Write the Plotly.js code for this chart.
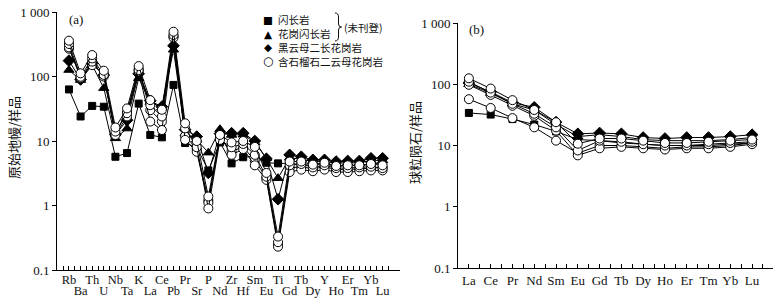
<!DOCTYPE html>
<html>
<head>
<meta charset="utf-8">
<script src="https://cdn.plot.ly/plotly-3.0.1.min.js"></script>
<style>html,body{margin:0;padding:0;background:#fff;}#chart{width:778px;height:301px;}</style>
</head>
<body>
<div id="chart"></div>
<script>
// ---- Panel (a): primitive-mantle normalised trace elements ----
const spiderElements = ['Rb','Ba','Th','U','Nb','Ta','K','La','Ce','Pb','Pr','Sr','P','Nd','Zr','Hf','Sm','Eu','Ti','Gd','Tb','Dy','Y','Ho','Er','Tm','Yb','Lu'];
const spiderDiorite      = [63,24,35,34,5.7,6.5,38,12.4,11.4,74,9.3,8.0,3.5,9.5,4.5,5.6,5.8,4.6,4.5,4.5,4.3,4.2,4.5,4.0,4.2,4.1,4.4,4.6];
const spiderGranodiorite = [126,88,150,66,11,15.6,94,40,33,260,13,10.5,6.6,15.2,12.4,12.5,9.5,5.4,2.65,5.5,5.2,4.8,4.8,4.5,4.6,4.6,5.0,5.0];
const spiderMonzogranite = [176,90,160,105,12.5,21,110,42,34,300,15,11.7,3.2,13,13.2,13.2,10,5.3,1.25,6.1,5.7,5.1,5.1,4.8,4.9,4.9,5.4,5.4];
const spiderGarnet1 = [359,112,215,123,16.2,32,145,43,30.5,495,18.8,10,1.38,12.4,9.5,10,8.1,3.2,0.33,4.8,4.8,4.3,4.6,4.1,4.2,4.2,4.4,4.2];
const spiderGarnet2 = [319,99,191,106,14,27,126,36,24,440,15.7,8,0.9,10.4,8,9,6.1,2.8,0.27,4.2,4.4,3.9,4.2,3.8,3.8,3.9,4.0,3.8];
const spiderGarnet3 = [283,95,170,100,12.4,24,120,20,14.8,400,10.4,6.8,1.1,12,6.1,7.5,4.2,2.5,0.23,3.3,3.6,3.4,3.6,3.3,3.3,3.4,3.5,3.5];
const spiderGarnet4 = [270,100,150,110,13,28,130,30,20,420,12,7.5,1.2,11,7,8,5,2.7,0.25,3.8,4.0,3.7,4.0,3.6,3.6,3.7,3.8,3.9];

// ---- Panel (b): chondrite-normalised REE ----
const reeElements = ['La','Ce','Pr','Nd','Sm','Eu','Gd','Tb','Dy','Ho','Er','Tm','Yb','Lu'];
const reeDiorite      = [34,32,27,22,17,12.5,12,11,10.5,10,10,10,10.5,11];
const reeGranodiorite = [100,72,48,38,22,14,15,14,12.5,12,12,12,12.5,13.5];
const reeMonzogranite = [105,75,50,42,24,15.5,16,15.5,13.5,13,13.5,13.5,14,15];
const reeGarnet1 = [125,85,55,38,24,10.7,13,13,12,11,11,11.5,12,12.5];
const reeGarnet2 = [110,73,48,33,19.8,8.3,12,11.5,10.5,10,10,10.5,11,11.5];
const reeGarnet3 = [98,67,44.5,30.6,17.5,6.9,9,9.5,9,8.6,9,9,9.5,10.5];
const reeGarnet4 = [57,41,28,19.8,12,7.5,10,10,9.5,9,9.5,9.5,10,11];

const legendLabels = ['闪长岩','花岗闪长岩','黑云母二长花岗岩','含石榴石二云母花岗岩'];
const legendSymbols = ['■','▲','◆','○'];

const serif = 'Liberation Serif, Times New Roman, serif';
const cjk = 'Noto Sans CJK SC, sans-serif';

const styles = {
  sq:  {symbol:'square', size:7, color:'#000', line:{color:'#000', width:1}},
  tri: {symbol:'triangle-up', size:9, color:'#000', line:{color:'#000', width:1}},
  dia: {symbol:'diamond', size:9, color:'#000', line:{color:'#000', width:1}},
  cir: {symbol:'circle', size:9, color:'#fff', line:{color:'#000', width:1}}
};

function mk(xcats, y, st, xa, ya) {
  return {
    x: xcats.map((_, i) => i), y: y, xaxis: xa, yaxis: ya,
    type: 'scatter', mode: 'lines+markers', showlegend: false,
    line: {color: '#000', width: 1}, marker: styles[st], cliponaxis: false
  };
}

const traces = [
  mk(spiderElements, spiderDiorite, 'sq', 'x', 'y'),
  mk(spiderElements, spiderGranodiorite, 'tri', 'x', 'y'),
  mk(spiderElements, spiderMonzogranite, 'dia', 'x', 'y'),
  mk(spiderElements, spiderGarnet4, 'cir', 'x', 'y'),
  mk(spiderElements, spiderGarnet3, 'cir', 'x', 'y'),
  mk(spiderElements, spiderGarnet2, 'cir', 'x', 'y'),
  mk(spiderElements, spiderGarnet1, 'cir', 'x', 'y'),
  mk(reeElements, reeDiorite, 'sq', 'x2', 'y2'),
  mk(reeElements, reeGranodiorite, 'tri', 'x2', 'y2'),
  mk(reeElements, reeMonzogranite, 'dia', 'x2', 'y2'),
  mk(reeElements, reeGarnet4, 'cir', 'x2', 'y2'),
  mk(reeElements, reeGarnet3, 'cir', 'x2', 'y2'),
  mk(reeElements, reeGarnet2, 'cir', 'x2', 'y2'),
  mk(reeElements, reeGarnet1, 'cir', 'x2', 'y2'),
  // empty carrier so the overlaid second-row label axis of panel (a) is drawn
  {type: 'scatter', mode: 'markers', x: [], y: [], xaxis: 'x3', yaxis: 'y', showlegend: false, hoverinfo: 'skip'}
];

const W = 778, H = 301;
const px = v => v / W, py = v => 1 - v / H;

const yTickVals = [0.1, 1, 10, 100, 1000];
const yTickText = ['0.1', '1', '10', '100', '1 000'];

function yax(domain, anchor) {
  return {
    type: 'log', range: [-1, 3], domain: domain, anchor: anchor,
    tickmode: 'array', tickvals: yTickVals, ticktext: yTickText,
    ticks: 'outside', ticklen: 4, tickcolor: '#000', tickwidth: 1,
    showline: true, linecolor: '#000', linewidth: 1,
    showgrid: false, zeroline: false,
    tickfont: {family: serif, size: 13, color: '#111'}
  };
}
function xax(cats, range, domain, anchor, labelFilter, standoff, fsize) {
  return {
    range: range, domain: domain, anchor: anchor,
    tickmode: 'array', tickvals: cats.map((_, i) => i),
    ticktext: cats.map((c, i) => labelFilter(i) ? c : ''),
    ticks: 'inside', ticklen: 4, tickcolor: '#000', tickwidth: 1,
    minor: {tickmode: 'linear', tick0: 0.5, dtick: 1, ticks: 'inside', ticklen: 4, tickcolor: '#000'},
    showline: true, linecolor: '#000', linewidth: 1,
    showgrid: false, zeroline: false,
    tickangle: 0, ticklabelstandoff: standoff,
    tickfont: {family: serif, size: fsize, color: '#111'}
  };
}

// second-row labels of panel (a): an overlaid axis that only carries text
const xaxis3 = {
  overlaying: 'x', anchor: 'y', range: [-1.03, 28.5],
  tickmode: 'array', tickvals: spiderElements.map((_, i) => i).filter(i => i % 2 === 1),
  ticktext: spiderElements.filter((_, i) => i % 2 === 1),
  ticks: '', showline: false, showgrid: false, zeroline: false,
  tickangle: 0, ticklabelstandoff: 11,
  tickfont: {family: serif, size: 12.5, color: '#111'}
};

const annotations = [
  {text: '(a)', x: px(67), y: py(20), xanchor: 'left', yanchor: 'middle'},
  {text: '(b)', x: px(467), y: py(30), xanchor: 'left', yanchor: 'middle'}
].map(a => Object.assign({xref: 'paper', yref: 'paper', showarrow: false, font: {family: serif, size: 13, color: '#111'}}, a));

const legendRowsY = [20, 34, 47.5, 61.5];
legendLabels.forEach((lab, i) => {
  annotations.push({xref: 'paper', yref: 'paper', showarrow: false, borderpad: 0, x: px(268), y: py(legendRowsY[i]), xanchor: 'center', yanchor: 'middle',
    text: legendSymbols[i], font: {family: 'DejaVu Sans', size: i === 3 ? 12 : 10.5, color: '#000'}});
  annotations.push({xref: 'paper', yref: 'paper', showarrow: false, borderpad: 0, x: px(277), y: py(legendRowsY[i]), xanchor: 'left', yanchor: 'middle',
    text: lab, font: {family: cjk, size: 10.5, color: '#111'}});
});
annotations.push({xref: 'paper', yref: 'paper', showarrow: false, borderpad: 0, x: px(343), y: py(27.5), xanchor: 'left', yanchor: 'middle',
  text: '(未刊登)', font: {family: cjk, size: 10.5, color: '#111'}});
annotations.push({xref: 'paper', yref: 'paper', showarrow: false, x: px(13), y: py(138), xanchor: 'center', yanchor: 'middle',
  text: '原始地幔/样品', textangle: -90, font: {family: cjk, size: 13, color: '#111'}});
annotations.push({xref: 'paper', yref: 'paper', showarrow: false, x: px(414), y: py(143), xanchor: 'center', yanchor: 'middle',
  text: '球粒陨石/样品', textangle: -90, font: {family: cjk, size: 13, color: '#111'}});

// curly brace grouping the first two legend rows
function bracePath(x0, xm, xt, yTop, yMid, yBot) {
  const X = v => (v / W).toFixed(5), Y = v => (1 - v / H).toFixed(5);
  return 'M' + X(x0) + ',' + Y(yTop) +
    ' Q' + X(xm) + ',' + Y(yTop) + ' ' + X(xm) + ',' + Y(yTop + 4) +
    ' L' + X(xm) + ',' + Y(yMid - 3) +
    ' Q' + X(xm) + ',' + Y(yMid) + ' ' + X(xt) + ',' + Y(yMid) +
    ' Q' + X(xm) + ',' + Y(yMid) + ' ' + X(xm) + ',' + Y(yMid + 3) +
    ' L' + X(xm) + ',' + Y(yBot - 4) +
    ' Q' + X(xm) + ',' + Y(yBot) + ' ' + X(x0) + ',' + Y(yBot);
}
const shapes = [{type: 'path', xref: 'paper', yref: 'paper', path: bracePath(335, 338.5, 341.5, 13, 27, 41),
  line: {color: '#111', width: 1}}];

const layout = {
  width: W, height: H,
  margin: {l: 0, r: 0, t: 0, b: 0},
  paper_bgcolor: '#fff', plot_bgcolor: '#fff',
  showlegend: false,
  xaxis: xax(spiderElements, [-1.03, 28.5], [px(57), px(400)], 'y', i => i % 2 === 0, -2, 12.5),
  yaxis: yax([1 - 270 / H, 1 - 12 / H], 'x'),
  xaxis2: xax(reeElements, [-0.5, 13.96], [px(458), px(773)], 'y2', () => true, 0, 13),
  yaxis2: yax([1 - 268 / H, 1 - 23 / H], 'x2'),
  xaxis3: xaxis3,
  annotations: annotations,
  shapes: shapes
};

Plotly.newPlot('chart', traces, layout, {staticPlot: true, displayModeBar: false});
</script>
</body>
</html>
